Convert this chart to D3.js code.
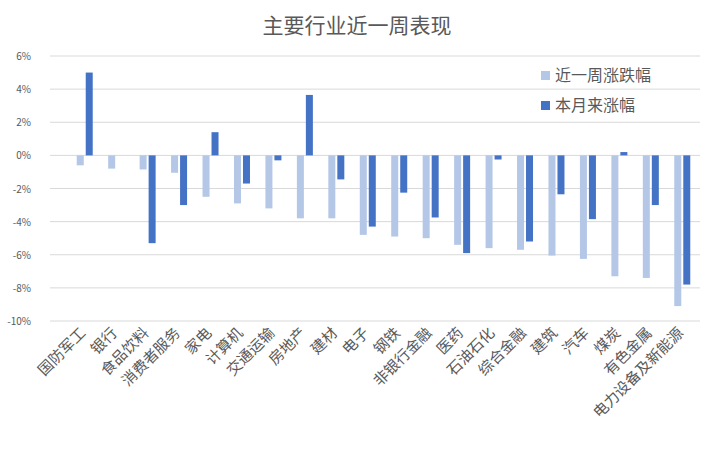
<!DOCTYPE html><html><head><meta charset="utf-8"><script src="https://cdn.jsdelivr.net/npm/d3@7"></script>
<style>body{margin:0;background:#fff}</style></head><body><svg id="c" width="715" height="475"></svg>
<script>
const categories=["国防军工","银行","食品饮料","消费者服务","家电","计算机","交通运输","房地产","建材","电子","钢铁","非银行金融","医药","石油石化","综合金融","建筑","汽车","煤炭","有色金属","电力设备及新能源"];
const weekChange=[-0.6,-0.8,-0.85,-1.05,-2.5,-2.9,-3.2,-3.8,-3.8,-4.8,-4.9,-5.0,-5.4,-5.6,-5.7,-6.05,-6.25,-7.3,-7.4,-9.1];
const monthChange=[5.0,0,-5.3,-3.0,1.4,-1.7,-0.3,3.65,-1.45,-4.3,-2.25,-3.75,-5.9,-0.25,-5.2,-2.35,-3.85,0.2,-3.0,-7.8];
const yTicks=[6,4,2,0,-2,-4,-6,-8,-10];
const seriesNames=["近一周涨跌幅","本月来涨幅"];
const colors=["#b4c7e7","#4472c4"];
const svg=d3.select("#c"),F="'Noto Sans CJK SC',sans-serif";
const x=d3.scaleBand().domain(categories).range([69,698]);
const y=d3.scaleLinear().domain([-10,6]).range([321,56]);
svg.append("text").attr("x",357).attr("y",33).attr("text-anchor","middle").attr("font-family",F).attr("font-size",21).attr("fill","#595959").text("主要行业近一周表现");
const g=svg.append("g");
yTicks.forEach(t=>{g.append("line").attr("x1",50).attr("x2",700).attr("y1",y(t)).attr("y2",y(t)).attr("stroke","#d9d9d9");
g.append("text").attr("x",31).attr("y",y(t)+4).attr("text-anchor","end").attr("font-family",F).attr("font-size",10).attr("fill","#595959").text(t+"%");});
const bw=7;
[weekChange,monthChange].forEach((s,si)=>{
 svg.selectAll(null).data(s).enter().append("rect")
 .attr("x",(d,i)=>x(categories[i])+x.bandwidth()/2+(si?1:-bw-1))
 .attr("width",bw).attr("y",d=>y(Math.max(0,d))).attr("height",d=>Math.abs(y(d)-y(0))).attr("fill",colors[si]);
});
categories.forEach(c=>{const cx=x(c)+x.bandwidth()/2+2,cy=334;
svg.append("text").attr("transform",`translate(${cx},${cy}) rotate(-45)`).attr("text-anchor","end").attr("font-family",F).attr("font-size",15).attr("fill","#595959").text(c);});
seriesNames.forEach((n,i)=>{svg.append("rect").attr("x",541).attr("y",71+i*30).attr("width",9).attr("height",9).attr("fill",colors[i]);
svg.append("text").attr("x",555).attr("y",81+i*30).attr("font-family",F).attr("font-size",16).attr("fill","#595959").text(n);});
</script></body></html>
